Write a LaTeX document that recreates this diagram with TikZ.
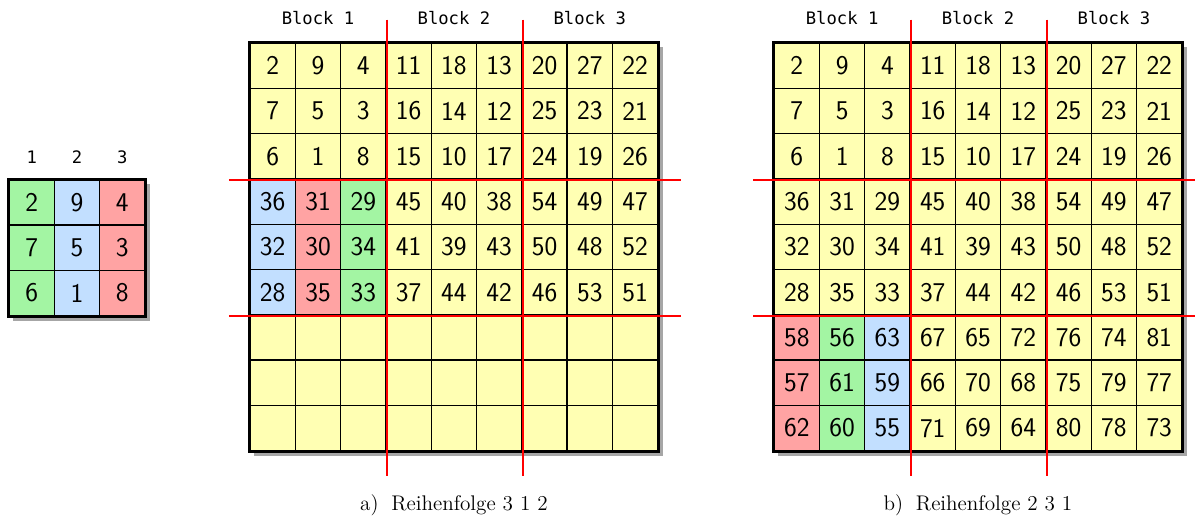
\documentclass[tikz,border=0pt]{standalone}
\usepackage{fontspec}
\usepackage{tikz}
\usetikzlibrary{positioning,calc,backgrounds}
\newfontfamily\monolabel{DejaVu Sans Mono}
\definecolor{cellyellow}{HTML}{FFFFB3}
\definecolor{cellgreen}{HTML}{A3F5A3}
\definecolor{cellblue}{HTML}{C2DFFF}
\definecolor{cellred}{HTML}{FFA3A3}
\definecolor{blockred}{HTML}{FF0000}
\tikzset{
  cell/.style={rectangle, draw=black, line width=0.9pt, fill=#1,
    minimum size=1cm, inner sep=0pt,
    font=\fontsize{17}{19}\selectfont\sffamily},
  cell/.default=cellyellow,
  gridframe/.style={draw=black, line width=1.4pt},
  gridshadow/.style={fill=black!50, opacity=0.7},
  blockline/.style={draw=blockred, line width=1.3pt},
  blocklabel/.style={font=\fontsize{10.8}{12}\selectfont\monolabel, inner sep=0pt},
  caption/.style={font=\fontsize{13.3}{15}\selectfont, inner sep=0pt},
}
\begin{document}
\begin{tikzpicture}
\useasboundingbox (0,0) rectangle (26.38,-11.61);
% key
\foreach \row [count=\r] in {{2,9,4},{7,5,3},{6,1,8}} {
  \foreach \val [count=\c] in \row {
    \ifcase\c\or\def\fillc{cellgreen}\or\def\fillc{cellblue}\or\def\fillc{cellred}\fi
    \node[cell=\fillc] (k-\r-\c) at (\c-0.3, -3.47-\r) {\val};
  }
}
\foreach \c in {1,2,3}
  \node[blocklabel] (k-h-\c) at ($(k-1-\c)+(0,1)$) {\c};
% a) 3 1 2
\foreach \row [count=\r] in {{2,9,4,11,18,13,20,27,22},{7,5,3,16,14,12,25,23,21},
    {6,1,8,15,10,17,24,19,26},{36,31,29,45,40,38,54,49,47},
    {32,30,34,41,39,43,50,48,52},{28,35,33,37,44,42,46,53,51}} {
  \foreach \val [count=\c] in \row {
    \def\fillc{cellyellow}
    \ifnum\r>3 \ifcase\c\or\def\fillc{cellblue}\or\def\fillc{cellred}\or\def\fillc{cellgreen}\fi\fi
    \node[cell=\fillc] (a-\r-\c) at (5.02+\c, -0.45-\r) {\val};
  }
}
\foreach \r in {7,8,9}
  \foreach \c in {1,...,9}
    \node[cell] (a-\r-\c) at (5.02+\c, -0.45-\r) {};
% b) 2 3 1
\foreach \row [count=\r] in {{2,9,4,11,18,13,20,27,22},{7,5,3,16,14,12,25,23,21},
    {6,1,8,15,10,17,24,19,26},{36,31,29,45,40,38,54,49,47},
    {32,30,34,41,39,43,50,48,52},{28,35,33,37,44,42,46,53,51},
    {58,56,63,67,65,72,76,74,81},{57,61,59,66,70,68,75,79,77},
    {62,60,55,71,69,64,80,78,73}} {
  \foreach \val [count=\c] in \row {
    \def\fillc{cellyellow}
    \ifnum\r>6 \ifcase\c\or\def\fillc{cellred}\or\def\fillc{cellgreen}\or\def\fillc{cellblue}\fi\fi
    \node[cell=\fillc] (b-\r-\c) at (16.59+\c, -0.45-\r) {\val};
  }
}
\begin{scope}[on background layer]
  \fill[gridshadow] ($(k-1-1.north west)+(0.1,-0.1)$) rectangle ($(k-3-3.south east)+(0.1,-0.1)$);
  \fill[gridshadow] ($(a-1-1.north west)+(0.1,-0.1)$) rectangle ($(a-9-9.south east)+(0.1,-0.1)$);
  \fill[gridshadow] ($(b-1-1.north west)+(0.1,-0.1)$) rectangle ($(b-9-9.south east)+(0.1,-0.1)$);
\end{scope}
\draw[gridframe] (k-1-1.north west) rectangle (k-3-3.south east);
\foreach \g in {a,b} {
  \draw[gridframe] (\g-1-1.north west) rectangle (\g-9-9.south east);
  \foreach \c in {3,6}
    \draw[blockline] ($(\g-1-\c.north east)+(0,0.5)$) -- ($(\g-9-\c.south east)+(0,-0.55)$);
  \foreach \r in {3,6}
    \draw[blockline] ($(\g-\r-1.south west)+(-0.45,0)$) -- ($(\g-\r-9.south east)+(0.5,0)$);
  \foreach \m [count=\i] in {2,5,8}
    \node[blocklabel] (\g-blk-\i) at ($(\g-1-\m)+(0,1.05)$) {Block \i};
}
\node[caption] (a-cap) at ($(a-9-5)+(0,-1.7)$) {a)\hspace{0.6em}Reihenfolge 3 1 2};
\node[caption] (b-cap) at ($(b-9-5)+(0,-1.7)$) {b)\hspace{0.6em}Reihenfolge 2 3 1};
\end{tikzpicture}
\end{document}
